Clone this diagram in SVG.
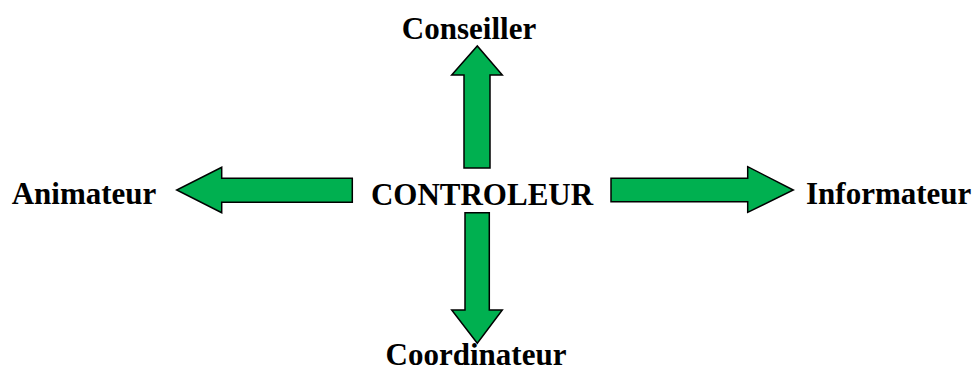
<svg xmlns="http://www.w3.org/2000/svg" width="978" height="372" viewBox="0 0 978 372">
<style>
.lbl{font-family:"Liberation Serif","Times New Roman",serif;font-weight:bold;font-size:31px;fill:#000}
.arr{fill:#00B050;stroke:#000;stroke-width:1.5;stroke-linejoin:miter}
</style>
<rect width="978" height="372" fill="#fff"/>
<g id="connectors">
<polygon class="arr" points="464,168 464,75 451.7,75 477.3,46 502.3,75 490,75 490,168"/>
<polygon class="arr" points="465,212.7 489.3,212.7 489.3,310 502.3,310 477.3,343.3 451.7,310 465,310"/>
<polygon class="arr" points="352.3,178.3 352.3,202.3 221.7,202.3 221.7,212.7 176.7,190 221.7,167.3 221.7,178.3"/>
<polygon class="arr" points="611,178.3 747.7,178.3 747.7,166.7 793.3,190 747.7,212.3 747.7,201.7 611,201.7"/>
</g>
<g id="controleur"><text class="lbl" x="482" y="205" text-anchor="middle">CONTROLEUR</text></g>
<g id="conseiller"><text class="lbl" x="469" y="39" text-anchor="middle">Conseiller</text></g>
<g id="animateur"><text class="lbl" x="11.7" y="204">Animateur</text></g>
<g id="informateur"><text class="lbl" x="806" y="204">Informateur</text></g>
<g id="coordinateur"><text class="lbl" x="476" y="365" text-anchor="middle">Coordinateur</text></g>
</svg>
